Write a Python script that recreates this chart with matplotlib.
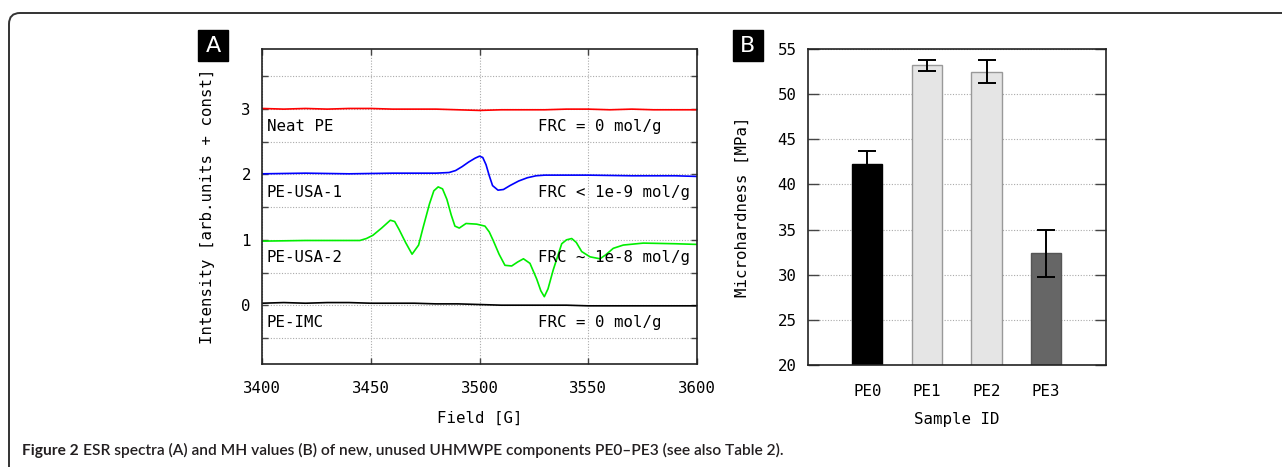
import matplotlib
matplotlib.use("Agg")
import matplotlib.pyplot as plt
from matplotlib.patches import Rectangle, FancyBboxPatch
from matplotlib.transforms import IdentityTransform
from matplotlib.ticker import FixedLocator, FuncFormatter

# ---- panel A: ESR spectra ----
field_flat = [3400, 3410, 3420, 3430, 3440, 3450, 3460, 3470, 3480, 3490, 3500,
              3510, 3520, 3530, 3540, 3550, 3560, 3570, 3580, 3590, 3600]
neat_pe = [3.01, 3.00, 3.01, 3.00, 3.01, 3.01, 3.00, 3.00, 3.00, 2.99, 2.98,
           2.99, 2.99, 2.99, 3.00, 3.00, 2.99, 3.00, 2.99, 2.99, 2.99]
pe_imc = [0.03, 0.04, 0.03, 0.04, 0.04, 0.03, 0.03, 0.03, 0.02, 0.02, 0.01,
          0.00, 0.00, 0.00, 0.00, -0.01, -0.01, -0.01, -0.01, -0.01, -0.01]

field_usa1 = [3400, 3420, 3440, 3460, 3480, 3486, 3489, 3492, 3495, 3498, 3500,
              3501.5, 3503, 3504.5, 3506, 3508.5, 3511, 3514, 3518, 3522, 3526,
              3530, 3550, 3570, 3590, 3600]
pe_usa1 = [2.01, 2.02, 2.01, 2.02, 2.02, 2.03, 2.06, 2.12, 2.19, 2.25, 2.28,
           2.26, 2.15, 1.98, 1.83, 1.76, 1.77, 1.83, 1.90, 1.95, 1.98,
           1.99, 1.99, 1.98, 1.98, 1.97]

field_usa2 = [3400, 3420, 3445, 3448, 3451, 3455, 3459, 3461, 3463, 3466, 3469,
              3472, 3474, 3477, 3479, 3481, 3483, 3485, 3487, 3488.7, 3490.7,
              3493.8, 3498.7, 3502.5, 3504.5, 3506.3, 3509, 3511.7, 3514.8,
              3517.5, 3520.2, 3523.2, 3526.3, 3528.2, 3529.8, 3531.5, 3533.9,
              3537.8, 3540, 3542.4, 3544.5, 3547, 3550.8, 3555.4, 3558, 3561.5,
              3566.1, 3575.3, 3590, 3600]
pe_usa2 = [0.98, 0.99, 0.99, 1.02, 1.07, 1.18, 1.30, 1.28, 1.16, 0.96, 0.78,
           0.92, 1.18, 1.55, 1.75, 1.81, 1.78, 1.62, 1.38, 1.21, 1.18,
           1.25, 1.24, 1.21, 1.12, 0.99, 0.78, 0.61, 0.60,
           0.66, 0.71, 0.64, 0.40, 0.22, 0.13, 0.25, 0.54,
           0.94, 1.00, 1.02, 0.96, 0.82, 0.74, 0.71, 0.77, 0.87,
           0.92, 0.95, 0.94, 0.93]

spec_names = ["Neat PE", "PE-USA-1", "PE-USA-2", "PE-IMC"]
spec_frc = ["FRC = 0 mol/g", "FRC < 1e-9 mol/g", "FRC ~ 1e-8 mol/g", "FRC = 0 mol/g"]
spec_offsets = [3, 2, 1, 0]

# ---- panel B: microhardness ----
samples = ["PE0", "PE1", "PE2", "PE3"]
mh = [42.3, 53.2, 52.5, 32.4]
mh_err = [1.4, 0.6, 1.3, 2.6]

mono = "DejaVu Sans Mono"
plt.rcParams["font.family"] = mono
plt.rcParams["font.size"] = 11.3

fig = plt.figure(figsize=(12.82, 4.67), dpi=100)

# outer frame with rounded top-left corner (pixel coordinates)
frame = FancyBboxPatch((9, -60), 1400, 454 + 60,
                       boxstyle="round,pad=0,rounding_size=11",
                       transform=IdentityTransform(), fill=False,
                       edgecolor="#333333", linewidth=1.4)
fig.patches.append(frame)

grid_kw = dict(color="#aaaaaa", linestyle=(0, (1, 1.5)), linewidth=0.8)

# ---------- panel A ----------
axA = fig.add_axes([262 / 1282, 103 / 467, 435 / 1282, 315 / 467])
axA.plot(field_flat, neat_pe, color="#ff0000", lw=1.2)
axA.plot(field_usa1, pe_usa1, color="#0000ff", lw=1.2)
axA.plot(field_usa2, pe_usa2, color="#00ee00", lw=1.2)
axA.plot(field_flat, pe_imc, color="black", lw=1.2)
for name, frc, off in zip(spec_names, spec_frc, spec_offsets):
    axA.text(3402.2, off - 0.27, name, va="center", ha="left")
    axA.text(3527, off - 0.27, frc, va="center", ha="left")
axA.set_xlim(3400, 3600)
axA.set_ylim(-0.9, 3.92)
axA.set_xticks([3400, 3450, 3500, 3550, 3600])
axA.yaxis.set_major_locator(FixedLocator([-0.5, 0, 0.5, 1, 1.5, 2, 2.5, 3, 3.5]))
axA.yaxis.set_major_formatter(FuncFormatter(
    lambda v, p: str(int(v)) if float(v).is_integer() else ""))
axA.grid(True, **grid_kw)
axA.tick_params(direction="in", top=True, right=True, length=4, width=1,
                color="#444444")
axA.tick_params(axis="x", pad=12)
axA.tick_params(axis="y", pad=8)
axA.set_xlabel("Field [G]")
axA.set_ylabel("Intensity [arb.units + const]")
axA.xaxis.set_label_coords(0.5, -0.15)
axA.yaxis.set_label_coords(-0.108, 0.5)
for s in axA.spines.values():
    s.set_linewidth(1.2)
    s.set_color("#222222")

# ---------- panel B ----------
axB = fig.add_axes([807.7 / 1282, 102 / 467, 298 / 1282, 316 / 467])
xpos = [1, 2, 3, 4]
face = ["black", "#e5e5e5", "#e5e5e5", "#666666"]
edge = ["black", "#999999", "#999999", "#555555"]
axB.bar(xpos, mh, width=0.51, color=face, edgecolor=edge, linewidth=1.0,
        zorder=2)
axB.errorbar(xpos, mh, yerr=mh_err, fmt="none", ecolor="black", elinewidth=1.4,
             capsize=6.5, capthick=1.4, zorder=3)
axB.set_xlim(0, 5)
axB.set_ylim(20, 55)
axB.set_xticks(xpos)
axB.set_xticklabels(samples)
axB.set_yticks([20, 25, 30, 35, 40, 45, 50, 55])
axB.yaxis.grid(True, **grid_kw)
axB.set_axisbelow(True)
axB.tick_params(axis="y", direction="in", left=True, right=True, length=8,
                width=1, color="#444444", pad=8)
axB.tick_params(axis="x", length=0, pad=14)
axB.set_xlabel("Sample ID")
axB.set_ylabel("Microhardness [MPa]")
axB.xaxis.set_label_coords(0.5, -0.15)
axB.yaxis.set_label_coords(-0.194, 0.5)
for s in axB.spines.values():
    s.set_linewidth(1.2)
    s.set_color("#222222")

# panel letters
for letter, x0 in [("A", 198), ("B", 733)]:
    fig.patches.append(Rectangle((x0 / 1282, (467 - 61) / 467), 30 / 1282, 31 / 467,
                                 transform=fig.transFigure, color="black"))
    fig.text((x0 + 15) / 1282, (467 - 45.5) / 467, letter, color="white",
             family="DejaVu Sans", fontsize=16, ha="center", va="center")

# caption: bold lead-in followed by regular text
cap_y = (467 - 455) / 467
cap_col = "#231f20"
t1 = fig.text(22 / 1282, cap_y, "Figure 2", family="Lato", weight="bold",
              fontsize=11.2, va="baseline", ha="left", color=cap_col)
fig.canvas.draw()
bb = t1.get_window_extent(renderer=fig.canvas.get_renderer())
fig.text((bb.x1 + 4) / 1282, cap_y,
         "ESR spectra (A) and MH values (B) of new, unused UHMWPE components "
         "PE0\u2013PE3 (see also Table 2).",
         family="Lato", weight="semibold", fontsize=11.2, va="baseline",
         ha="left", color=cap_col)

fig.savefig("out.png", dpi=100)
